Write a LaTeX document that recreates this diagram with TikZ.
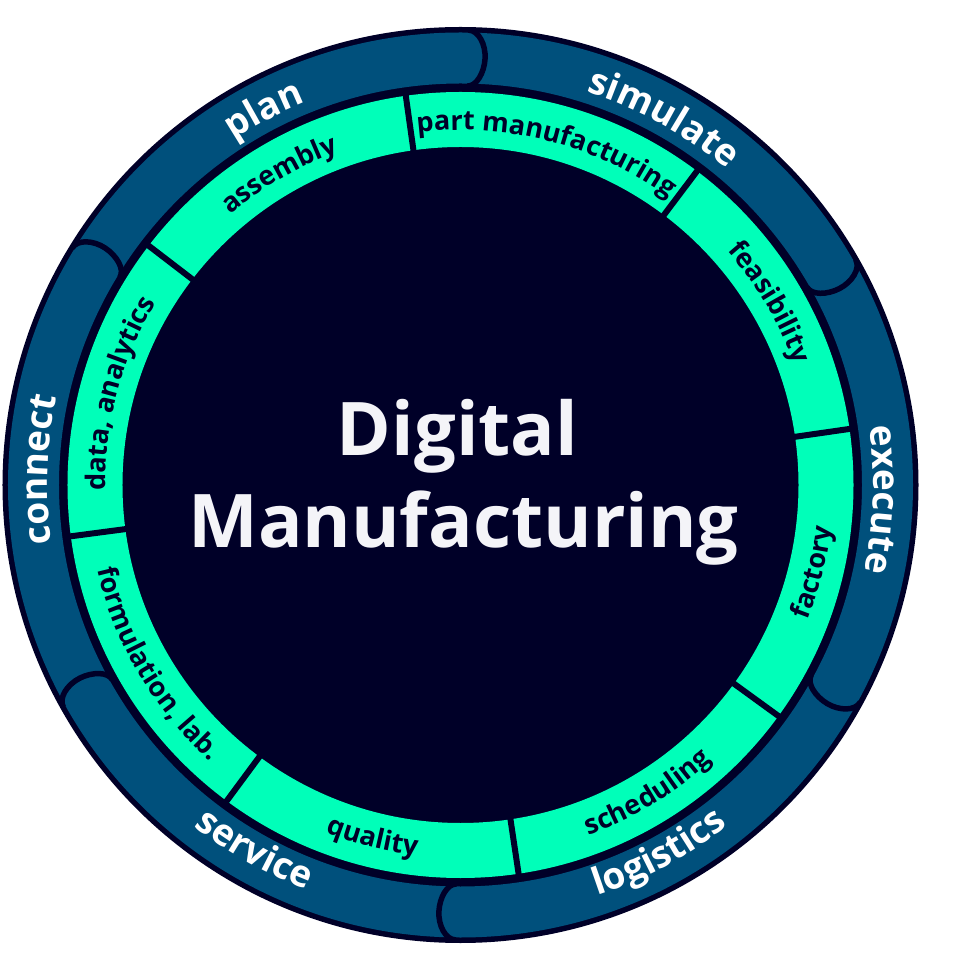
\documentclass[tikz,border=0pt]{standalone}
\usepackage{fontspec}
\setmainfont{Open Sans}
\usetikzlibrary{decorations.text}
\definecolor{navy}{HTML}{000028}
\definecolor{ringblue}{HTML}{00507C}
\definecolor{mint}{HTML}{00FFB9}
\definecolor{titlewhite}{HTML}{F4F4F8}
% text along an arc, tops outward (clockwise path)
\newcommand\cwtext[6]{\path[decorate,decoration={text along path,text align=center,text color=#4,
  text={|\fontsize{#5}{#5}\selectfont\bfseries|#6}}] (#1+#3:#2) arc[start angle=#1+#3,end angle=#1-#3,radius=#2];}
% text along an arc, tops inward (counter-clockwise path)
\newcommand\ccwtext[6]{\path[decorate,decoration={text along path,text align=center,text color=#4,
  text={|\fontsize{#5}{#5}\selectfont\bfseries|#6}}] (#1-#3:#2) arc[start angle=#1-#3,end angle=#1+#3,radius=#2];}
% rounded end of a blue segment, bulging clockwise
\newcommand\segcap[1]{\draw[capline] (#1:455) .. controls (#1-1.3:455) and (#1-2.3:441) .. (#1-2.3:427)
  .. controls (#1-2.3:413) and (#1-1.3:399) .. (#1:399);}
\begin{document}
\begin{tikzpicture}[x=1pt,y=1pt,
  sepline/.style={draw=navy,line width=6pt},
  capline/.style={draw=navy,line width=5.5pt},
  titletext/.style={font=\fontsize{74}{74}\selectfont\bfseries,text=titlewhite,anchor=base,inner sep=0pt}]
\fill[white] (-460.5,-472) rectangle (492.5,485);
\useasboundingbox (-460.5,-472) rectangle (492.5,485);
% rings
\fill[navy] (0,0) circle[radius=458];
\fill[ringblue,even odd rule] (0,0) circle[radius=452.5] (0,0) circle[radius=401.5];
\fill[mint,even odd rule] (0,0) circle[radius=393] (0,0) circle[radius=338];
% separators of the inner ring
\foreach \a in {98,53,8.2,-36,-81.5,-126.5,-172.5,142.5}
  \draw[sepline] (\a:334) -- (\a:397);
% rounded segment ends of the outer ring
\segcap{89}
\segcap{29.7}
\segcap{-28.5}
\segcap{-90.6}
\segcap{-150.8}
\segcap{148.6}
% outer ring labels
\cwtext{117.7}{413}{28}{white}{37}{plan}
\cwtext{61}{413}{28}{white}{37}{simulate}
\cwtext{-2}{413}{28}{white}{37}{execute}
\ccwtext{-61.7}{433}{28}{white}{37}{logistics}
\ccwtext{-119.4}{433}{28}{white}{37}{service}
\cwtext{177.9}{413}{28}{white}{37}{connect}
% inner ring labels
\cwtext{120.25}{355}{28}{navy}{27}{assembly}
\cwtext{75.5}{355}{28}{navy}{27}{part manufacturing}
\cwtext{30.6}{355}{28}{navy}{27}{feasibility}
\ccwtext{-13.9}{373}{28}{navy}{27}{factory}
\ccwtext{-58.75}{373}{28}{navy}{27}{scheduling}
\ccwtext{-104}{373}{28}{navy}{27}{quality}
\ccwtext{-149.5}{373}{28}{navy}{27}{formulation, lab.}
\cwtext{165}{355}{28}{navy}{27}{data, analytics}
% title
\node[titletext] (digital) at (-3,29) {Digital};
\node[titletext] (manufacturing) at (3,-63) {Manufacturing};
\end{tikzpicture}
\end{document}
